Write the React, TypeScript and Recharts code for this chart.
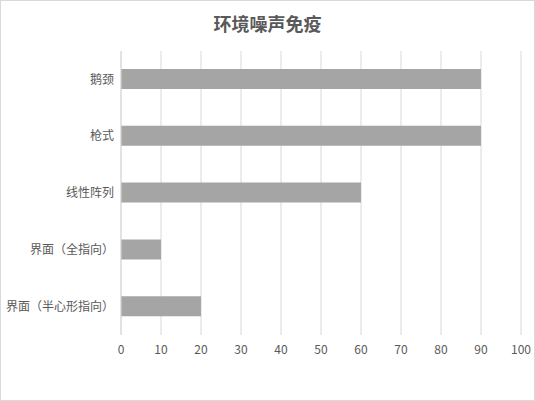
import { Bar, BarChart, CartesianGrid, XAxis, YAxis } from "recharts";

const categories = ["鹅颈", "枪式", "线性阵列", "界面（全指向）", "界面（半心形指向）"];
const immunity = [90, 90, 60, 10, 20];
const xTicks = [0, 10, 20, 30, 40, 50, 60, 70, 80, 90, 100];

const data = categories.map((name, i) => ({ name, value: immunity[i] }));

const FONT = '"Noto Sans CJK SC", "Microsoft YaHei", sans-serif';

export default function App() {
  return (
    <div style={{ position: "fixed", left: 0, top: 0, width: 535, height: 401, background: "#fff", fontFamily: FONT }}>
      <div
        style={{
          position: "absolute",
          top: 10,
          left: 0,
          width: 535,
          textAlign: "center",
          fontSize: 18,
          fontWeight: "bold",
          color: "#595959",
          lineHeight: "26px",
        }}
      >
        环境噪声免疫
      </div>
      <BarChart
        width={535}
        height={401}
        data={data}
        layout="vertical"
        margin={{ top: 51, right: 14, bottom: 36, left: 0 }}
        barSize={20}
      >
        <CartesianGrid horizontal={false} stroke="#d9d9d9" />
        <XAxis
          type="number"
          domain={[0, 100]}
          ticks={xTicks}
          axisLine={false}
          tickLine={false}
          tickSize={0}
          tickMargin={10}
          height={30}
          tick={{ fontSize: 12, fill: "#595959", fontFamily: FONT }}
        />
        <YAxis
          type="category"
          dataKey="name"
          width={121}
          axisLine={{ stroke: "#d9d9d9" }}
          tickLine={false}
          tickSize={0}
          tickMargin={7}
          tick={{ fontSize: 12, fill: "#595959", fontFamily: FONT }}
        />
        <Bar dataKey="value" fill="#a5a5a5" isAnimationActive={false} />
      </BarChart>
      <div
        style={{
          position: "absolute",
          left: 0,
          top: 0,
          width: 535,
          height: 401,
          boxSizing: "border-box",
          border: "1px solid #d9d9d9",
          pointerEvents: "none",
        }}
      />
    </div>
  );
}
